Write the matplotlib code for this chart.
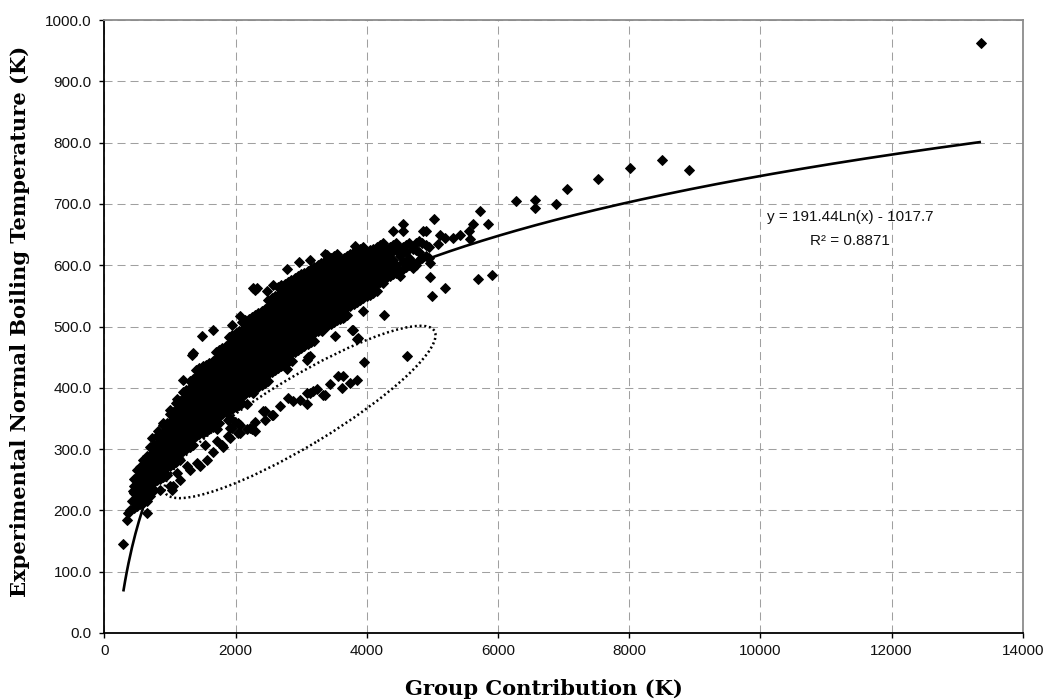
import matplotlib
matplotlib.use("Agg")
import matplotlib.pyplot as plt
from matplotlib.patches import Ellipse
import numpy as np

# ---------------- data ----------------
# dense band: one x per column, with the y values of that column
band_x = [450, 550, 650, 750, 850, 950, 1050, 1150, 1250, 1350, 1450, 1550,
          1650, 1750, 1850, 1950, 2050, 2150, 2250, 2350, 2450, 2550, 2650,
          2750, 2850, 2950, 3050, 3150, 3250, 3350, 3450, 3550, 3650, 3750,
          3850, 3950, 4050, 4150, 4250, 4350, 4450, 4550, 4650, 4750, 4850, 4950]
band_y = [
    [204, 216, 228, 240, 252],
    [210, 222, 234, 246, 258, 270],
    [216, 228, 240, 252, 264, 276, 288],
    [234, 246, 258, 270, 282, 294, 306],
    [252, 264, 276, 288, 300, 312, 324],
    [258, 270, 282, 294, 306, 318, 330, 342],
    [276, 288, 300, 312, 324, 336, 348, 360],
    [282, 294, 306, 318, 330, 342, 354, 366, 378],
    [300, 312, 324, 336, 348, 360, 372, 384, 396],
    [306, 318, 330, 342, 354, 366, 378, 390, 402, 414],
    [324, 336, 348, 360, 372, 384, 396, 408, 420, 432],
    [330, 342, 354, 366, 378, 390, 402, 414, 426, 438],
    [336, 348, 360, 372, 384, 396, 408, 420, 432, 444],
    [342, 354, 366, 378, 390, 402, 414, 426, 438, 450, 462],
    [360, 372, 384, 396, 408, 420, 432, 444, 456, 468],
    [366, 378, 390, 402, 414, 426, 438, 450, 462, 474, 486],
    [372, 384, 396, 408, 420, 432, 444, 456, 468, 480, 492],
    [390, 402, 414, 426, 438, 450, 462, 474, 486, 498, 510],
    [396, 408, 420, 432, 444, 456, 468, 480, 492, 504, 516],
    [402, 414, 426, 438, 450, 462, 474, 486, 498, 510, 522],
    [408, 420, 432, 444, 456, 468, 480, 492, 504, 516, 528],
    [426, 438, 450, 462, 474, 486, 498, 510, 522, 534, 546],
    [432, 444, 456, 468, 480, 492, 504, 516, 528, 540, 552],
    [438, 450, 462, 474, 486, 498, 510, 522, 534, 546, 558, 570],
    [456, 468, 480, 492, 504, 516, 528, 540, 552, 564, 576],
    [462, 474, 486, 498, 510, 522, 534, 546, 558, 570, 582],
    [468, 480, 492, 504, 516, 528, 540, 552, 564, 576, 588],
    [474, 486, 498, 510, 522, 534, 546, 558, 570, 582, 594],
    [492, 504, 516, 528, 540, 552, 564, 576, 588, 600],
    [498, 510, 522, 534, 546, 558, 570, 582, 594, 606],
    [504, 516, 528, 540, 552, 564, 576, 588, 600, 612],
    [510, 522, 534, 546, 558, 570, 582, 594, 606, 618],
    [516, 528, 540, 552, 564, 576, 588, 600, 612],
    [534, 546, 558, 570, 582, 594, 606, 618],
    [540, 552, 564, 576, 588, 600, 612, 624],
    [546, 558, 570, 582, 594, 606, 618, 630],
    [552, 564, 576, 588, 600, 612, 624],
    [558, 570, 582, 594, 606, 618, 630],
    [576, 588, 600, 612, 624, 636],
    [582, 594, 606, 618, 630],
    [588, 600, 624, 636],
    [594, 606, 630],
    [600, 612, 636],
    [600, 624, 636],
    [612, 636],
    [612, 630],
]

# dense band, in-between columns
band2_x = [500, 600, 700, 800, 900, 1000, 1100, 1200, 1300, 1400, 1500, 1600,
           1700, 1800, 1900, 2000, 2100, 2200, 2300, 2400, 2500, 2600, 2700,
           2800, 2900, 3000, 3100, 3200, 3300, 3400, 3500, 3600, 3700, 3800,
           3900, 4000, 4100, 4200, 4300, 4400, 4500, 4600, 4700, 4800, 4900]
band2_y = [
    [207, 219, 231, 243, 255],
    [213, 225, 237, 249, 261, 273],
    [231, 243, 255, 267, 279, 291, 303],
    [249, 261, 273, 285, 297, 309, 321],
    [255, 267, 279, 291, 303, 315, 327, 339],
    [273, 285, 297, 309, 321, 333, 345, 357],
    [279, 291, 303, 315, 327, 339, 351, 363, 375],
    [297, 309, 321, 333, 345, 357, 369, 381, 393],
    [303, 315, 327, 339, 351, 363, 375, 387, 399, 411],
    [321, 333, 345, 357, 369, 381, 393, 405, 417, 429],
    [327, 339, 351, 363, 375, 387, 399, 411, 423, 435],
    [333, 345, 357, 369, 381, 393, 405, 417, 429, 441],
    [339, 351, 363, 375, 387, 399, 411, 423, 435, 447, 459],
    [357, 369, 381, 393, 405, 417, 429, 441, 453, 465],
    [363, 375, 387, 399, 411, 423, 435, 447, 459, 471, 483],
    [369, 381, 393, 405, 417, 429, 441, 453, 465, 477, 489],
    [375, 387, 399, 411, 423, 435, 447, 459, 471, 483, 495, 507],
    [393, 405, 417, 429, 441, 453, 465, 477, 489, 501, 513],
    [399, 411, 423, 435, 447, 459, 471, 483, 495, 507, 519],
    [405, 417, 429, 441, 453, 465, 477, 489, 501, 513, 525],
    [411, 423, 435, 447, 459, 471, 483, 495, 507, 519, 531, 543],
    [429, 441, 453, 465, 477, 489, 501, 513, 525, 537, 549],
    [435, 447, 459, 471, 483, 495, 507, 519, 531, 543, 555, 567],
    [453, 465, 477, 489, 501, 513, 525, 537, 549, 561, 573],
    [459, 471, 483, 495, 507, 519, 531, 543, 555, 567, 579],
    [465, 477, 489, 501, 513, 525, 537, 549, 561, 573, 585],
    [471, 483, 495, 507, 519, 531, 543, 555, 567, 579, 591],
    [477, 489, 501, 513, 525, 537, 549, 561, 573, 585, 597],
    [495, 507, 519, 531, 543, 555, 567, 579, 591, 603],
    [501, 513, 525, 537, 549, 561, 573, 585, 597, 609],
    [507, 519, 531, 543, 555, 567, 579, 591, 603, 615],
    [513, 525, 537, 549, 561, 573, 585, 597, 609],
    [519, 531, 543, 555, 567, 579, 591, 603, 615],
    [537, 549, 561, 573, 585, 597, 609, 621],
    [543, 555, 567, 579, 591, 603, 615, 627],
    [549, 561, 573, 585, 597, 609, 621],
    [555, 567, 579, 591, 603, 615, 627],
    [573, 585, 597, 609, 621, 633],
    [579, 591, 603, 615, 627],
    [585, 597, 609, 633],
    [591, 615, 627],
    [597, 621, 633],
    [603, 627],
    [609, 621, 639],
    [615, 633],
]

# points above the dense band
upper_pts = [(494, 266), (595, 283), (722, 318), (824, 329), (900, 343),
             (1001, 364), (1103, 381), (1204, 413), (1332, 454), (1357, 457),
             (1485, 484), (1657, 495), (1942, 503), (2069, 517), (2272, 563),
             (2297, 560), (2323, 563), (2475, 558), (2572, 568), (2650, 565),
             (2780, 593), (2968, 605), (3137, 608), (3364, 618), (3390, 616),
             (3821, 631), (4405, 655), (4560, 668), (4560, 656), (4860, 656),
             (4904, 656), (5031, 676), (5092, 634), (5117, 649), (5194, 645),
             (5320, 645), (5422, 650), (5564, 656), (5575, 642), (5625, 667),
             (5727, 688), (5844, 667)]

# points right of / below the band on the high side
right_pts = [(2830, 446), (3110, 451), (3313, 492), (3517, 484), (3640, 514),
             (3771, 495), (3786, 495), (3857, 480), (3867, 482), (3949, 525),
             (4264, 519), (4253, 571), (4508, 582), (4710, 596), (4965, 580),
             (4965, 604), (4991, 550), (5194, 562), (5692, 578), (5905, 584)]

# the lower group (inside / near the dotted ellipse) and low-side points
lower_pts = [(280, 145), (351, 185), (366, 196), (392, 201), (420, 215),
             (440, 232), (544, 212), (646, 196), (698, 223), (849, 234),
             (1001, 239), (1027, 234), (1052, 239), (1103, 261), (1154, 250),
             (1256, 272), (1306, 266), (1408, 277), (1459, 272), (1535, 307),
             (1561, 283), (1611, 348), (1662, 296), (1713, 313), (1713, 332),
             (1789, 307), (1814, 304), (1890, 321), (1890, 348), (1916, 318),
             (1916, 334), (1916, 351), (1942, 334), (1992, 345), (1992, 378),
             (2043, 326), (2043, 343), (2069, 326), (2069, 340), (2094, 392),
             (2170, 333), (2170, 373), (2221, 334), (2247, 332), (2271, 392),
             (2297, 329), (2297, 345), (2424, 362), (2450, 348), (2450, 362),
             (2551, 356), (2576, 355), (2678, 370), (2780, 431), (2805, 383),
             (2856, 443), (2881, 378), (2983, 380), (3085, 374), (3085, 392),
             (3085, 446), (3136, 391), (3136, 452), (3186, 394), (3238, 398),
             (3337, 389), (3364, 389), (3441, 407), (3567, 419), (3619, 400),
             (3643, 420), (3745, 408), (3857, 412), (3959, 442), (4619, 452)]

# isolated high points
far_pts = [(6271, 705), (6565, 706), (6565, 694), (6881, 700), (7058, 724),
           (7525, 741), (8013, 758), (8497, 772), (8913, 755), (13364, 963)]

# logarithmic trend line shown on the chart
trend_a = 191.44
trend_b = -1017.7
trend_xmin = 290
trend_xmax = 13364
eq_text = "y = 191.44Ln(x) - 1017.7"
r2_text = "R² = 0.8871"

x_ticks = [0, 2000, 4000, 6000, 8000, 10000, 12000, 14000]
y_ticks = [0, 100, 200, 300, 400, 500, 600, 700, 800, 900, 1000]
x_label = "Group Contribution (K)"
y_label = "Experimental Normal Boiling Temperature (K)"

# ---------------- drawing ----------------
W, H = 1045, 700
fig = plt.figure(figsize=(W / 100, H / 100), dpi=100)
ax = fig.add_axes([104.3 / W, 67 / H, 918.4 / W, 613 / H])

xs, ys = [], []
for cols_x, cols_y in ((band_x, band_y), (band2_x, band2_y)):
    for cx, col in zip(cols_x, cols_y):
        for v in col:
            xs.append(cx)
            ys.append(v)
for group in (upper_pts, right_pts, lower_pts, far_pts):
    for px, py in group:
        xs.append(px)
        ys.append(py)

ax.plot(xs, ys, linestyle="none", marker="D", ms=4.7, mfc="black",
        mec="black", mew=0.7, zorder=3)

tx = np.linspace(trend_xmin, trend_xmax, 500)
ax.plot(tx, trend_a * np.log(tx) + trend_b, color="black", lw=1.9,
        solid_capstyle="butt", zorder=4)

ax.set_xlim(0, 14000)
ax.set_ylim(0, 1000)
ax.set_xticks(x_ticks)
ax.set_yticks(y_ticks)
ax.set_xticklabels([str(v) for v in x_ticks])
ax.set_yticklabels(["%.1f" % v for v in y_ticks])

ax.set_axisbelow(True)
ax.grid(True, color="#a0a0a0", lw=0.75, linestyle=(0, (7.7, 4.8)))

for s in ("left", "bottom"):
    ax.spines[s].set_color("black")
    ax.spines[s].set_linewidth(1.3)
for s in ("top", "right"):
    ax.spines[s].set_color("#8c8c8c")
    ax.spines[s].set_linewidth(1.3)

ax.tick_params(axis="both", direction="out", length=3.6, width=1.0,
               color="black", labelsize=11, labelcolor="#111111")
ax.tick_params(axis="x", pad=4.3)
ax.tick_params(axis="y", pad=5.5)
for lab in ax.get_xticklabels() + ax.get_yticklabels():
    lab.set_fontfamily("Liberation Sans")

ax.text(11367, 678, eq_text, ha="center", va="center", fontsize=11,
        family="Liberation Sans", color="#111111", zorder=6)
ax.text(11367, 640, r2_text, ha="center", va="center", fontsize=11,
        family="Liberation Sans", color="#111111", zorder=6)

# dotted ellipse drawn on the chart (figure inches)
ell = Ellipse((3.00, 2.88), 3.14, 0.68, angle=31.1,
              transform=fig.dpi_scale_trans, fill=False, ec="black",
              lw=1.8, ls=(0, (0.8, 1.1)), zorder=7)
fig.add_artist(ell)

# axis titles, sized to the reference width
xl = fig.text(544 / W, 1 - 689 / H, x_label, ha="center", va="center",
              family="DejaVu Serif", fontweight="bold", fontsize=14)
renderer = fig.canvas.get_renderer()
wpx = xl.get_window_extent(renderer).width
fs = 14 * 278 / wpx
xl.set_fontsize(fs)
fig.text(20 / W, 1 - 321 / H, y_label, ha="center", va="center",
         rotation=90, family="DejaVu Serif", fontweight="bold", fontsize=fs)

fig.savefig("out.png", dpi=100)
